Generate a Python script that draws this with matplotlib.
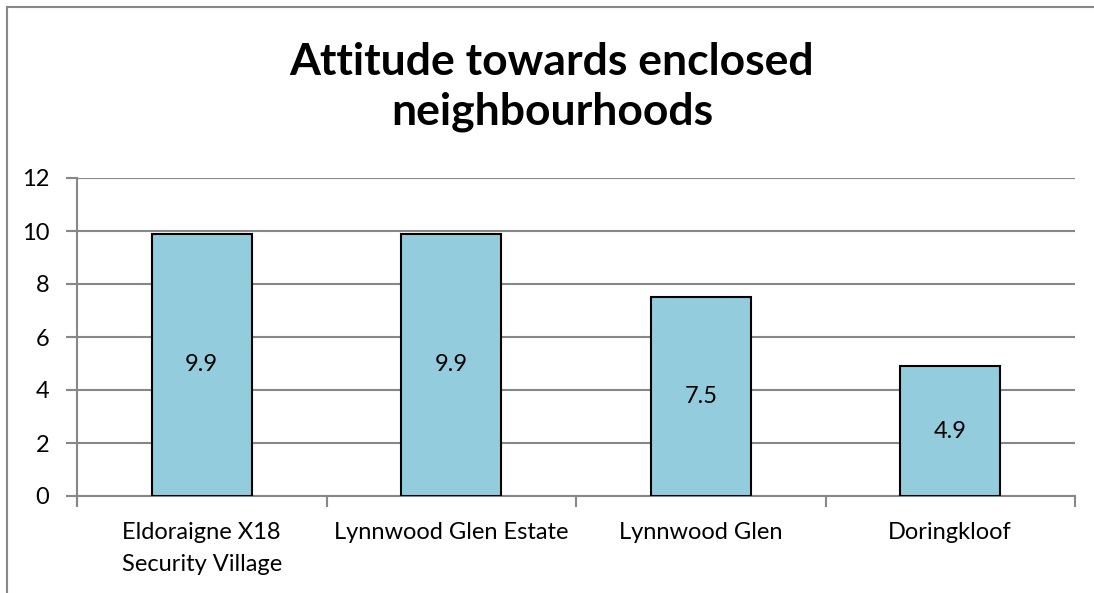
import matplotlib
matplotlib.use("Agg")
import matplotlib.pyplot as plt
from matplotlib.lines import Line2D

categories = ["Eldoraigne X18\nSecurity Village", "Lynnwood Glen Estate", "Lynnwood Glen", "Doringkloof"]
values = [9.9, 9.9, 7.5, 4.9]
value_labels = ["9.9", "9.9", "7.5", "4.9"]
yticks = [0, 2, 4, 6, 8, 10, 12]
title = "Attitude towards enclosed\nneighbourhoods"

plt.rcParams['font.family'] = ['Lato', 'DejaVu Sans']

W, H = 1094, 593
fig = plt.figure(figsize=(W/100, H/100), dpi=100)
ax = fig.add_axes([77/W, 1-496/H, (1075-77)/W, (496-178)/H])

grid_c = "#878787"
fs = 17
x = list(range(len(categories)))
ax.bar(x, values, width=0.4, color="#93CDDD", edgecolor="black", linewidth=1.5, zorder=3)
for xi, v, lab in zip(x, values, value_labels):
    ax.text(xi, v/2, lab, ha="center", va="center", fontsize=fs, color="black", zorder=4)

ax.set_xlim(-0.5, len(categories)-0.5)
ax.set_ylim(0, 12)
ax.set_yticks(yticks)
ax.set_yticklabels([str(t) for t in yticks], fontsize=fs)
ax.yaxis.grid(True, color=grid_c, linewidth=1.5, zorder=0)
ax.set_axisbelow(True)
ax.tick_params(axis='y', length=8, width=1.5, color=grid_c, pad=12, direction='out')

ax.set_xticks([i + 0.5 for i in range(-1, len(categories))], minor=False)
ax.set_xticklabels([])
ax.tick_params(axis='x', which='major', length=8, width=1.5, color=grid_c, direction='out')
ax.set_xticks(x, minor=True)
ax.set_xticklabels(categories, minor=True, fontsize=fs, linespacing=1.6)
ax.tick_params(axis='x', which='minor', length=0, pad=19)
for lab in ax.get_xticklabels(minor=True):
    lab.set_verticalalignment('top')

for s in ["top", "right"]:
    ax.spines[s].set_visible(False)
for s in ["left", "bottom"]:
    ax.spines[s].set_color(grid_c)
    ax.spines[s].set_linewidth(1.5)
ax.spines["left"].set_bounds(-0.3, 12)

fig.text(552/W, 1-87/H, title, ha="center", va="center", fontsize=32, fontweight="bold", linespacing=1.3)

fig.add_artist(Line2D([7/W, 7/W], [0, 1-7/H], color=grid_c, linewidth=1.5))
fig.add_artist(Line2D([7/W, 1], [1-7/H, 1-7/H], color=grid_c, linewidth=1.5))

fig.savefig("out.png", dpi=100)
